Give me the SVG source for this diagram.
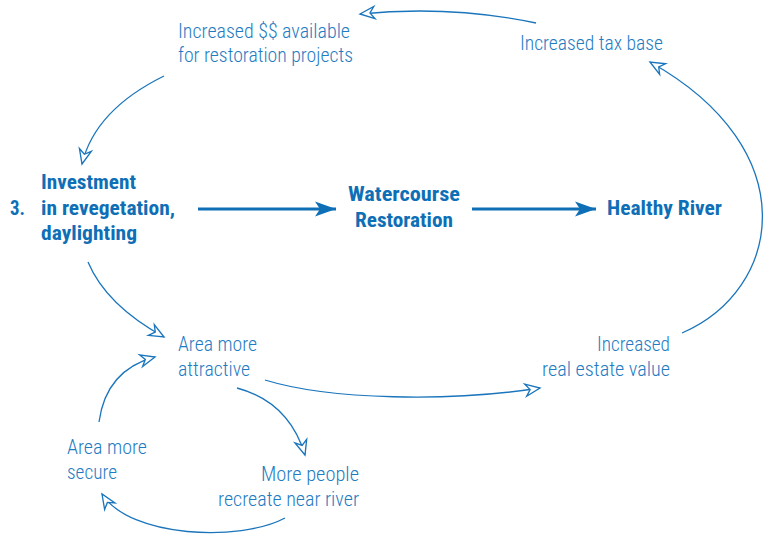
<svg xmlns="http://www.w3.org/2000/svg" width="770" height="537" viewBox="0 0 770 537">
<style>
text{font-family:"Liberation Sans Narrow","Roboto Condensed","Liberation Sans",Arial,sans-serif;fill:#1f7cc2;font-size:19.5px;font-weight:300}
.b{font-weight:bold;fill:#0f6fb6}
.c{fill:none;stroke:#1a75bc;stroke-width:1.3}
.m{fill:none;stroke:#0f6fb6;stroke-width:3}
</style>
<defs>
<marker id="oa" markerUnits="userSpaceOnUse" markerWidth="20" markerHeight="20" viewBox="-16 -8 18 16" refX="0" refY="0" orient="auto">
<path d="M-13,-5.5 L0,0 L-13,5.5 L-9,0 Z" fill="#fff" stroke="#1a75bc" stroke-width="1.2" stroke-linejoin="miter"/>
</marker>
<marker id="fa" markerUnits="userSpaceOnUse" markerWidth="26" markerHeight="20" viewBox="-22 -10 24 20" refX="0" refY="0" orient="auto">
<path d="M-21,-7.5 L0,0 L-21,7.5 L-16,0 Z" fill="#0f6fb6"/>
</marker>
</defs>
<g id="connectors">
<path class="m" d="M198,209 L336,209" marker-end="url(#fa)"/>
<path class="m" d="M472,209 L596,209" marker-end="url(#fa)"/>
<path class="c" d="M536,23 Q450,5 360,14" marker-end="url(#oa)"/>
<path class="c" d="M164,76 Q95,110 82,164" marker-end="url(#oa)"/>
<path class="c" d="M88,262 Q106,305 164,337" marker-end="url(#oa)"/>
<path class="c" d="M99,422 Q106,370 155,357" marker-end="url(#oa)"/>
<path class="c" d="M237,388 Q289,402 305,455" marker-end="url(#oa)"/>
<path class="c" d="M285,518 C240,542 130,538 102,494" marker-end="url(#oa)"/>
<path class="c" d="M265,380 C330,400 450,402 540,388" marker-end="url(#oa)"/>
<path class="c" d="M682,333 C782,290 807,150 650,62" marker-end="url(#oa)"/>
</g>
<g id="n-funds"><text x="178" y="38" textLength="172" lengthAdjust="spacingAndGlyphs">Increased $$ available</text><text x="178" y="62" textLength="175" lengthAdjust="spacingAndGlyphs">for restoration projects</text></g>
<g id="n-tax"><text x="520" y="50" textLength="143" lengthAdjust="spacingAndGlyphs">Increased tax base</text></g>
<g id="n-invest"><text class="b" x="10" y="215" textLength="15" lengthAdjust="spacingAndGlyphs">3.</text><text class="b" x="41" y="189" textLength="95" lengthAdjust="spacingAndGlyphs">Investment</text><text class="b" x="41" y="215" textLength="134" lengthAdjust="spacingAndGlyphs">in revegetation,</text><text class="b" x="41" y="240" textLength="96" lengthAdjust="spacingAndGlyphs">daylighting</text></g>
<g id="n-water"><text class="b" x="348" y="201" textLength="112" lengthAdjust="spacingAndGlyphs">Watercourse</text><text class="b" x="355" y="227" textLength="98" lengthAdjust="spacingAndGlyphs">Restoration</text></g>
<g id="n-river"><text class="b" x="607" y="215" textLength="115" lengthAdjust="spacingAndGlyphs">Healthy River</text></g>
<g id="n-attractive"><text x="178" y="351" textLength="79" lengthAdjust="spacingAndGlyphs">Area more</text><text x="178" y="376" textLength="72" lengthAdjust="spacingAndGlyphs">attractive</text></g>
<g id="n-realestate"><text x="597" y="351" textLength="73" lengthAdjust="spacingAndGlyphs">Increased</text><text x="542" y="376" textLength="128" lengthAdjust="spacingAndGlyphs">real estate value</text></g>
<g id="n-secure"><text x="67" y="454" textLength="80" lengthAdjust="spacingAndGlyphs">Area more</text><text x="67" y="479" textLength="50" lengthAdjust="spacingAndGlyphs">secure</text></g>
<g id="n-people"><text x="261" y="481" textLength="98" lengthAdjust="spacingAndGlyphs">More people</text><text x="218" y="506" textLength="141" lengthAdjust="spacingAndGlyphs">recreate near river</text></g>
</svg>
